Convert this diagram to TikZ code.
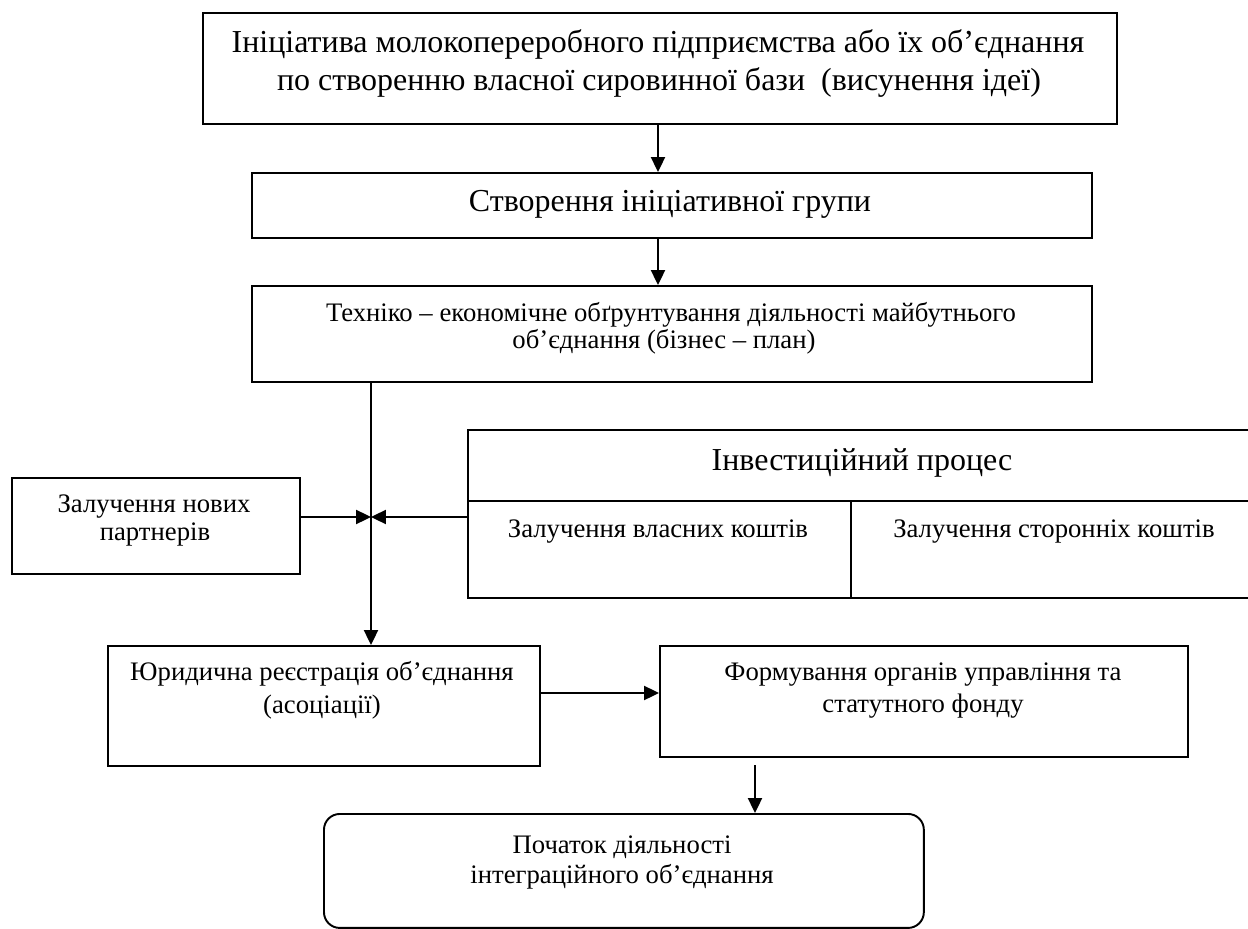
\documentclass[tikz,border=0pt]{standalone}
\usepackage{fontspec}
\setmainfont{Liberation Serif}
\usetikzlibrary{arrows.meta}
\tikzset{
  box/.style={draw, line width=1.1pt, rectangle, inner sep=0pt, anchor=north west},
  rbox/.style={box, rounded corners=9pt},
  big/.style={anchor=base, inner sep=0pt, font=\fontsize{18.2}{21}\selectfont},
  mid/.style={anchor=base, inner sep=0pt, font=\fontsize{15.2}{17}\selectfont},
  arr/.style={line width=1.1pt, -{Triangle[length=8.5pt,width=8pt]}},
  ln/.style={line width=1.1pt}
}
\begin{document}
\begin{tikzpicture}[x=0.02cm, y=-0.02cm]
\useasboundingbox (0,0) rectangle (1248,929);
% boxes
\node[box, minimum width=18.28cm, minimum height=2.22cm] (top) at (202,12) {};
\node[box, minimum width=16.8cm, minimum height=1.3cm] (grp) at (251,172) {};
\node[box, minimum width=16.8cm, minimum height=1.92cm] (teo) at (251,285) {};
\node[box, minimum width=5.76cm, minimum height=1.92cm] (part) at (11,477) {};
\node[box, minimum width=15.8cm, minimum height=3.36cm] (inv) at (467,429) {};
\node[box, minimum width=8.64cm, minimum height=2.4cm] (jur) at (107,645) {};
\node[box, minimum width=10.56cm, minimum height=2.22cm] (form) at (659,645) {};
\node[rbox, minimum width=12cm, minimum height=2.28cm] (start) at (323,813) {};
% investment box inner lines
\coordinate (invmid) at (467,501);
\coordinate (invcol) at (851,501);
\draw[ln] (invmid) -- (invmid -| inv.east);
\draw[ln] (invcol) -- (invcol |- inv.south);
% texts
\node[big] (t1) at (658,53) {Ініціатива молокопереробного підприємства або їх об’єднання};
\node[big] (t2) at (659,91) {по створенню власної сировинної бази\ \ (висунення ідеї)};
\node[big] (t3) at (670,212) {Створення ініціативної групи};
\node[mid] (t4) at (671,321) {Техніко – економічне обґрунтування діяльності майбутнього};
\node[mid] (t5) at (664,349) {об’єднання (бізнес – план)};
\node[mid] (t6) at (154,512) {Залучення нових};
\node[mid] (t7) at (155,540) {партнерів};
\node[big] (t8) at (862,470) {Інвестиційний процес};
\node[mid] (t9) at (658,537) {Залучення власних коштів};
\node[mid] (t10) at (1054,537) {Залучення сторонніх коштів};
\node[mid] (t11) at (322,680) {Юридична реєстрація об’єднання};
\node[mid] (t12) at (322,713) {(асоціації)};
\node[mid] (t13) at (923,680) {Формування органів управління та};
\node[mid] (t14) at (923,712) {статутного фонду};
\node[mid] (t15) at (622,853) {Початок діяльності};
\node[mid] (t16) at (622,883) {інтеграційного об’єднання};
% connectors
\coordinate (vx) at (658,0);
\coordinate (meet) at (371,517);
\coordinate (hy) at (0,693);
\coordinate (dx) at (755,765);
\draw[arr] (top.south -| vx) -- (grp.north -| vx);
\draw[arr] (grp.south -| vx) -- (teo.north -| vx);
\draw[arr] (teo.south -| meet) -- (jur.north -| meet);
\draw[arr] (part.east |- meet) -- (meet);
\draw[arr] (inv.west |- meet) -- (meet);
\draw[arr] (jur.east |- hy) -- (form.west |- hy);
\draw[arr] (dx) -- (start.north -| dx);
\end{tikzpicture}
\end{document}
